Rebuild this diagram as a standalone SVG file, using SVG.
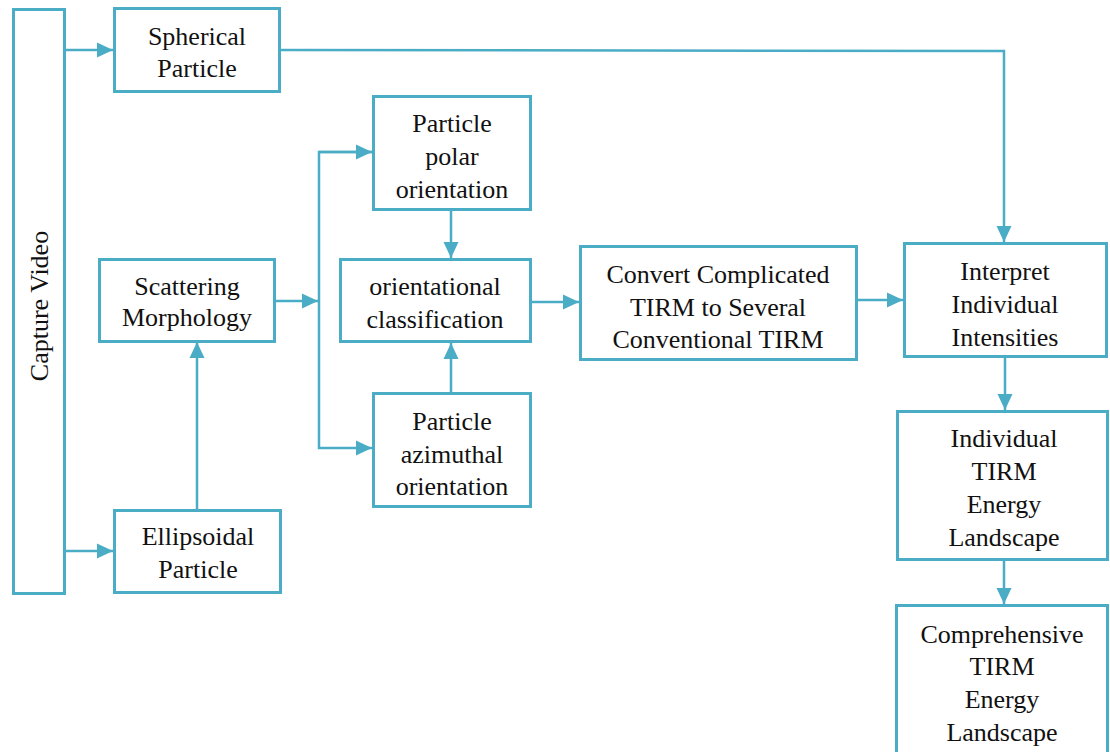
<svg xmlns="http://www.w3.org/2000/svg" width="1110" height="752" viewBox="0 0 1110 752">
  <style>
    .box { fill: #ffffff; stroke: #4BACC6; stroke-width: 3; }
    .link { fill: none; stroke: #4BACC6; stroke-width: 2.5; }
    .lbl { font-family: "Liberation Serif", "Times New Roman", serif; font-size: 26px; fill: #111111; text-anchor: middle; }
  </style>
  <defs>
    <marker id="arrow" markerUnits="userSpaceOnUse" markerWidth="16" markerHeight="16" refX="16" refY="8" orient="auto">
      <path d="M0,0.5 L16,8 L0,15.5 z" fill="#4BACC6"/>
    </marker>
    <clipPath id="clipMorph"><rect x="99" y="259" width="176" height="73"/></clipPath>
    <clipPath id="clipIndiv"><rect x="897" y="411" width="210" height="141"/></clipPath>
  </defs>
  <rect width="1110" height="752" fill="#ffffff"/>

  <g id="connectors">
    <path class="link" d="M65,50 L113,50" marker-end="url(#arrow)"/>
    <path class="link" d="M65,551 L113,551" marker-end="url(#arrow)"/>
    <path class="link" d="M280,50 L1004,51 L1004,242" marker-end="url(#arrow)"/>
    <path class="link" d="M197,509 L197,342" marker-end="url(#arrow)"/>
    <path class="link" d="M275,301 L318,301" marker-end="url(#arrow)"/>
    <path class="link" d="M372,152 L319,152 L319,448 L372,448" marker-end="url(#arrow)"/>
    <path class="link" d="M319,152 L372,152" marker-end="url(#arrow)"/>
    <path class="link" d="M451,211 L451,258" marker-end="url(#arrow)"/>
    <path class="link" d="M451,393 L451,343" marker-end="url(#arrow)"/>
    <path class="link" d="M532,302 L579,302" marker-end="url(#arrow)"/>
    <path class="link" d="M857,300 L903,300" marker-end="url(#arrow)"/>
    <path class="link" d="M1005,357 L1005,410" marker-end="url(#arrow)"/>
    <path class="link" d="M1004,560 L1004,604" marker-end="url(#arrow)"/>
  </g>

  <g id="capture-video">
    <rect class="box" x="13.5" y="9.5" width="51" height="584"/>
    <text class="lbl" transform="translate(48,306) rotate(-90)">Capture Video</text>
  </g>

  <g id="spherical-particle">
    <rect class="box" x="114.5" y="8.5" width="165" height="83"/>
    <text class="lbl" x="197" y="45">Spherical</text>
    <text class="lbl" x="197" y="77">Particle</text>
  </g>

  <g id="scattering-morphology">
    <rect class="box" x="99.5" y="259.5" width="175" height="82"/>
    <g clip-path="url(#clipMorph)">
      <text class="lbl" x="187" y="295">Scattering</text>
      <text class="lbl" x="187" y="326">Morphology</text>
    </g>
  </g>

  <g id="ellipsoidal-particle">
    <rect class="box" x="114.5" y="510.5" width="166" height="82"/>
    <text class="lbl" x="198" y="545">Ellipsoidal</text>
    <text class="lbl" x="198" y="578">Particle</text>
  </g>

  <g id="polar-orientation">
    <rect class="box" x="373.5" y="96.5" width="157" height="113"/>
    <text class="lbl" x="452" y="132">Particle</text>
    <text class="lbl" x="452" y="165">polar</text>
    <text class="lbl" x="452" y="198">orientation</text>
  </g>

  <g id="orientational-classification">
    <rect class="box" x="340.5" y="259.5" width="190" height="82"/>
    <text class="lbl" x="435" y="295">orientational</text>
    <text class="lbl" x="435" y="328">classification</text>
  </g>

  <g id="azimuthal-orientation">
    <rect class="box" x="373.5" y="393.5" width="157" height="113"/>
    <text class="lbl" x="452" y="430">Particle</text>
    <text class="lbl" x="452" y="463">azimuthal</text>
    <text class="lbl" x="452" y="495">orientation</text>
  </g>

  <g id="convert-tirm">
    <rect class="box" x="580.5" y="246.5" width="276" height="113"/>
    <text class="lbl" x="718" y="283">Convert Complicated</text>
    <text class="lbl" x="718" y="316">TIRM to Several</text>
    <text class="lbl" x="718" y="348">Conventional TIRM</text>
  </g>

  <g id="interpret-intensities">
    <rect class="box" x="904.5" y="243.5" width="202" height="113"/>
    <text class="lbl" x="1005" y="280">Interpret</text>
    <text class="lbl" x="1005" y="313">Individual</text>
    <text class="lbl" x="1005" y="346">Intensities</text>
  </g>

  <g id="individual-landscape">
    <rect class="box" x="897.5" y="411.5" width="210" height="148"/>
    <g clip-path="url(#clipIndiv)">
      <text class="lbl" x="1004" y="447">Individual</text>
      <text class="lbl" x="1004" y="480">TIRM</text>
      <text class="lbl" x="1004" y="513">Energy</text>
      <text class="lbl" x="1004" y="546">Landscape</text>
    </g>
  </g>

  <g id="comprehensive-landscape">
    <rect class="box" x="896.5" y="605.5" width="211" height="160"/>
    <text class="lbl" x="1002" y="643">Comprehensive</text>
    <text class="lbl" x="1002" y="675">TIRM</text>
    <text class="lbl" x="1002" y="708">Energy</text>
    <text class="lbl" x="1002" y="741">Landscape</text>
  </g>
</svg>
